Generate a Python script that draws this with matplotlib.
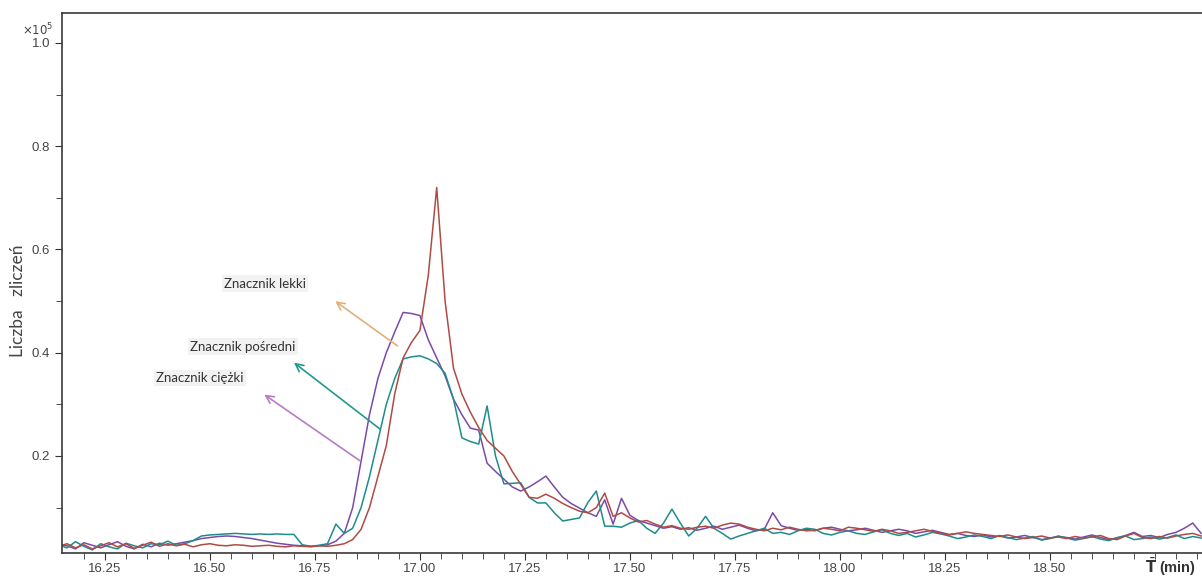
import numpy as np
import matplotlib
matplotlib.use('Agg')
from matplotlib import pyplot as plt
import matplotlib.transforms as mtransforms

plt.rcParams['font.family'] = ['Liberation Sans', 'DejaVu Sans']

# retention time grid (min), one sample every 0.02 min
time_min = np.round(16.14 + 0.02 * np.arange(137), 2)

# counts (x 10^5)
lekki = [
    0.025, 0.030, 0.022, 0.028, 0.020, 0.026, 0.032, 0.024, 0.030, 0.021,
    0.027, 0.033, 0.025, 0.030, 0.026, 0.029, 0.024, 0.028, 0.030, 0.027,
    0.026, 0.028, 0.027, 0.025, 0.026, 0.027, 0.025, 0.024, 0.026, 0.025,
    0.024, 0.026, 0.025, 0.027, 0.030, 0.038, 0.058, 0.100, 0.160, 0.220,
    0.320, 0.390, 0.420, 0.443, 0.550, 0.720, 0.500, 0.370, 0.320, 0.285,
    0.255, 0.230, 0.215, 0.200, 0.170, 0.145, 0.120, 0.118, 0.126, 0.118,
    0.108, 0.100, 0.093, 0.090, 0.100, 0.128, 0.083, 0.090, 0.080, 0.072,
    0.075, 0.068, 0.062, 0.065, 0.060, 0.058, 0.062, 0.064, 0.060, 0.066,
    0.070, 0.068, 0.062, 0.058, 0.055, 0.060, 0.057, 0.062, 0.058, 0.055,
    0.056, 0.060, 0.058, 0.055, 0.062, 0.060, 0.057, 0.054, 0.058, 0.055,
    0.050, 0.052, 0.055, 0.058, 0.054, 0.050, 0.047, 0.050, 0.053, 0.050,
    0.048, 0.046, 0.044, 0.047, 0.043, 0.040, 0.042, 0.045, 0.041, 0.043,
    0.040, 0.044, 0.041, 0.043, 0.046, 0.040, 0.038, 0.045, 0.050, 0.042,
    0.040, 0.044, 0.041, 0.045, 0.048, 0.050, 0.045,
]

posredni = [
    0.028, 0.022, 0.034, 0.025, 0.018, 0.030, 0.024, 0.020, 0.031, 0.026,
    0.022, 0.030, 0.028, 0.035, 0.027, 0.030, 0.036, 0.045, 0.047, 0.048,
    0.049, 0.050, 0.049, 0.048, 0.049, 0.048, 0.049, 0.048, 0.048, 0.028,
    0.025, 0.027, 0.030, 0.068, 0.050, 0.060, 0.100, 0.160, 0.230, 0.300,
    0.350, 0.388, 0.392, 0.394, 0.388, 0.379, 0.360, 0.310, 0.235, 0.228,
    0.223, 0.297, 0.200, 0.146, 0.147, 0.148, 0.120, 0.109, 0.109, 0.090,
    0.074, 0.077, 0.080, 0.110, 0.132, 0.064, 0.064, 0.062, 0.070, 0.075,
    0.060, 0.050, 0.070, 0.097, 0.070, 0.045, 0.060, 0.083, 0.060, 0.050,
    0.039, 0.045, 0.050, 0.055, 0.060, 0.050, 0.052, 0.048, 0.055, 0.060,
    0.058, 0.050, 0.047, 0.052, 0.055, 0.050, 0.048, 0.053, 0.057, 0.050,
    0.046, 0.050, 0.043, 0.047, 0.052, 0.049, 0.045, 0.040, 0.043, 0.047,
    0.044, 0.040, 0.046, 0.042, 0.038, 0.041, 0.044, 0.037, 0.040, 0.045,
    0.041, 0.037, 0.040, 0.044, 0.039, 0.036, 0.042, 0.045, 0.038, 0.040,
    0.043, 0.039, 0.042, 0.047, 0.040, 0.044, 0.041,
]

ciezki = [
    0.030, 0.026, 0.020, 0.032, 0.027, 0.022, 0.028, 0.034, 0.025, 0.020,
    0.029, 0.024, 0.031, 0.027, 0.030, 0.033, 0.036, 0.040, 0.042, 0.044,
    0.045, 0.044, 0.042, 0.040, 0.037, 0.034, 0.031, 0.029, 0.027, 0.026,
    0.025, 0.026, 0.028, 0.035, 0.050, 0.100, 0.190, 0.280, 0.350, 0.400,
    0.440, 0.478, 0.476, 0.472, 0.425, 0.390, 0.355, 0.310, 0.280, 0.254,
    0.250, 0.186, 0.170, 0.155, 0.140, 0.132, 0.140, 0.150, 0.161, 0.140,
    0.120, 0.108, 0.099, 0.090, 0.083, 0.115, 0.068, 0.118, 0.085, 0.075,
    0.070, 0.065, 0.060, 0.063, 0.058, 0.061, 0.056, 0.060, 0.064, 0.058,
    0.062, 0.066, 0.060, 0.055, 0.058, 0.090, 0.065, 0.060, 0.056, 0.058,
    0.055, 0.060, 0.062, 0.058, 0.055, 0.057, 0.060, 0.056, 0.052, 0.055,
    0.058, 0.055, 0.050, 0.053, 0.056, 0.052, 0.048, 0.050, 0.046, 0.044,
    0.047, 0.043, 0.045, 0.041, 0.043, 0.046, 0.042, 0.038, 0.041, 0.044,
    0.042, 0.039, 0.043, 0.047, 0.042, 0.038, 0.041, 0.046, 0.052, 0.044,
    0.046, 0.042, 0.048, 0.052, 0.060, 0.070, 0.050,
]

x_ticks = [16.25, 16.50, 16.75, 17.00, 17.25, 17.50, 17.75, 18.00, 18.25, 18.50]
y_ticks = [0.2, 0.4, 0.6, 0.8, 1.0]

fig = plt.figure(figsize=(12.02, 5.76), dpi=100)
ax = fig.add_axes([0.0516, 0.0399, 0.9484, 0.9375])

ax.plot(time_min, ciezki, color='#7a4aa8', lw=1.1)
ax.plot(time_min, posredni, color='#1f8c8c', lw=1.1)
ax.plot(time_min, lekki, color='#b04a45', lw=1.1)

ax.set_xlim(16.148, 18.862)
ax.set_ylim(0.012, 1.058)

ax.set_xticks(x_ticks)
ax.set_xticklabels(['%.2f' % t for t in x_ticks])
ax.set_xticks(np.arange(16.20, 18.86, 0.05), minor=True)
ax.set_yticks(y_ticks)
ax.set_yticklabels(['%.1f' % v for v in y_ticks])
ax.set_yticks([0.1, 0.3, 0.5, 0.7, 0.9], minor=True)

ax.tick_params(axis='both', which='both', direction='out', colors='#333333',
               labelsize=9.5, labelcolor='#444444')
ax.tick_params(axis='x', pad=2)
ax.tick_params(which='major', length=5)
ax.tick_params(which='minor', length=4)

for side in ('left', 'top', 'bottom'):
    ax.spines[side].set_color('#3a3a3a')
    ax.spines[side].set_linewidth(1.2)
ax.spines['right'].set_visible(False)

ax.text(-0.021, 0.968, r'$\times10^{5}$', transform=ax.transAxes,
        ha='center', va='center', fontsize=8.5, color='#444444')

ax.text(-0.0386, 0.468, 'Liczba   zliczeń', transform=ax.transAxes,
        rotation=90, ha='center', va='center', fontsize=12.5,
        color='#444444', family=['Lato', 'DejaVu Sans'])

trans = mtransforms.blended_transform_factory(ax.transData, ax.transAxes)
ax.text(18.786, -0.026, r'$\bar{\mathbf{T}}$ (min)', transform=trans,
        ha='center', va='center', fontsize=10.5, fontweight='bold', color='#333333')

labels = [
    ('Znacznik lekki', (16.631, 0.534), (16.793, 0.503), (16.952, 0.410), '#e2b07a'),
    ('Znacznik pośredni', (16.579, 0.412), (16.695, 0.384), (16.910, 0.249), '#1f9a8c'),
    ('Znacznik ciężki', (16.476, 0.351), (16.624, 0.322), (16.862, 0.188), '#b77cc4'),
]
for text, text_pos, head, tail, color in labels:
    ax.text(text_pos[0], text_pos[1], text, ha='center', va='center',
            fontsize=9.5, color='#333333', family=['Lato', 'DejaVu Sans'],
            bbox=dict(facecolor='#f2f2f2', edgecolor='none', pad=1.5))
    ax.annotate('', xy=head, xytext=tail,
                arrowprops=dict(arrowstyle='->', color=color, lw=1.2,
                                mutation_scale=14))

fig.savefig('out.png', dpi=100)
